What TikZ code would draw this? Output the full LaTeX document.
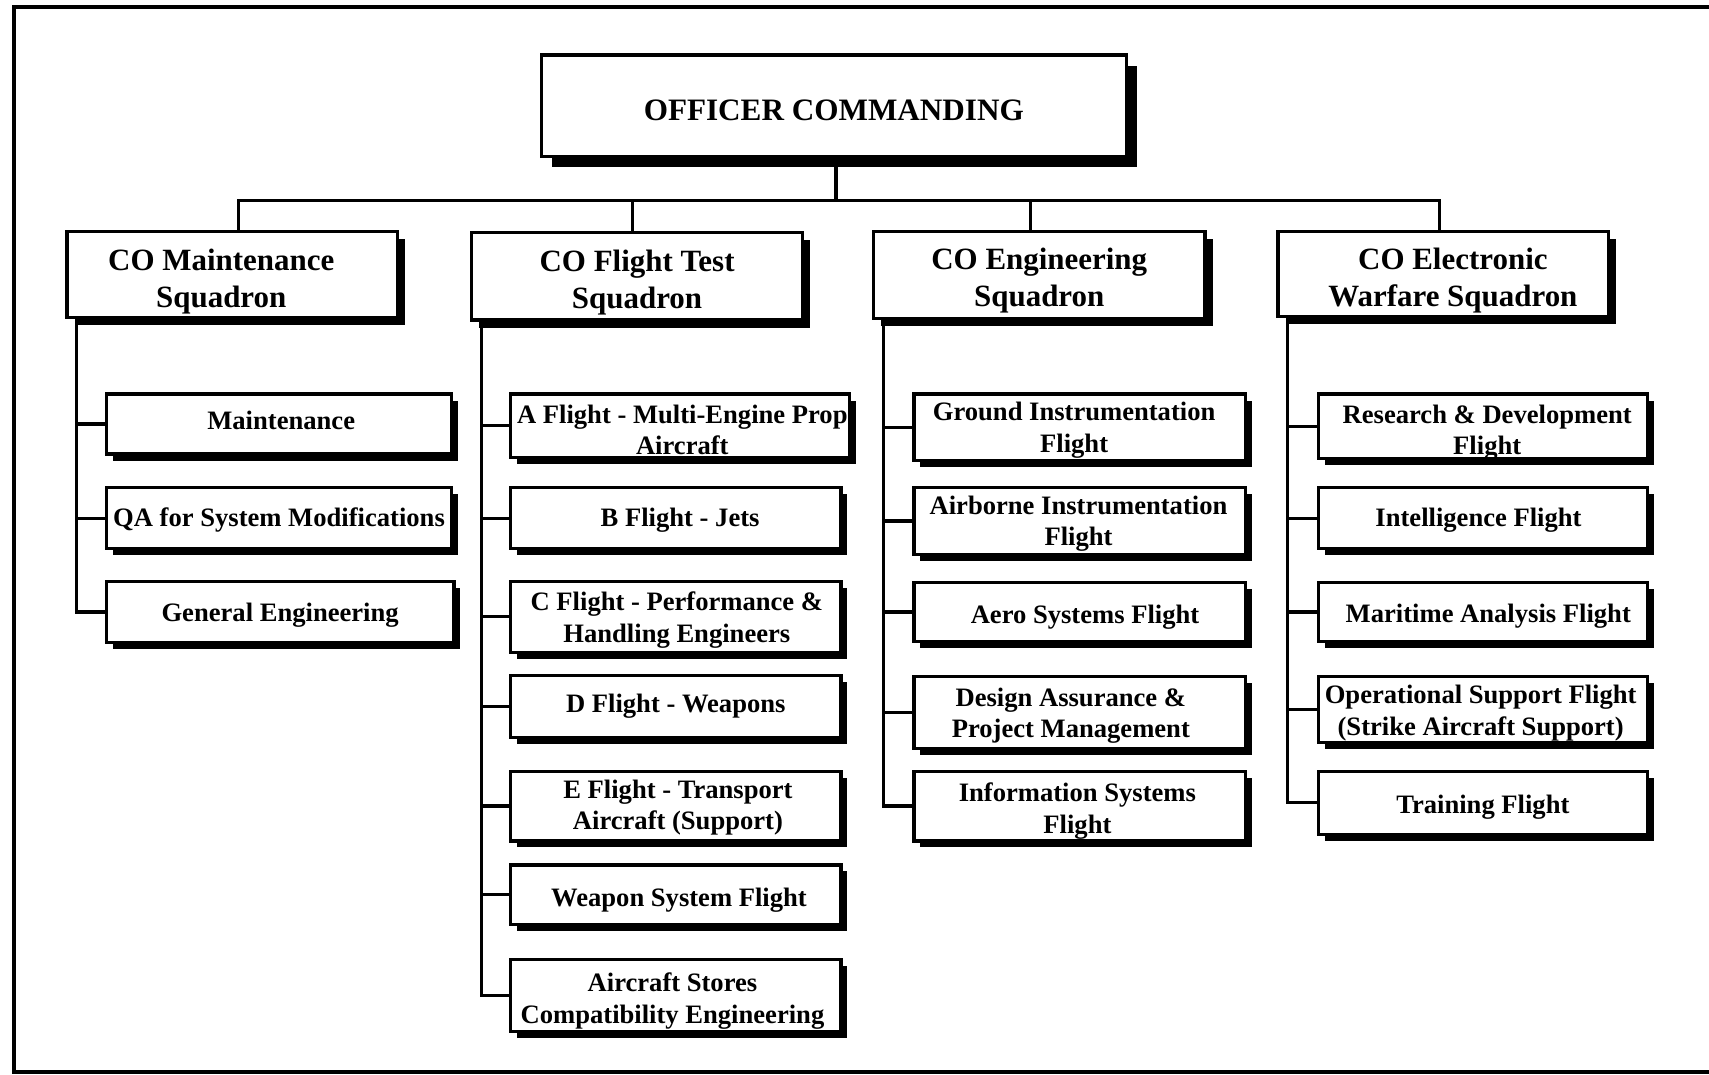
\documentclass[tikz,border=0pt]{standalone}
\usepackage{fontspec}
\setmainfont{Liberation Serif}
\usetikzlibrary{shadows,backgrounds}

% box from outer corners (x1,y1)-(x2,y2) with its caption nudged by (dx,dy):
% kind, name, x1, y1, x2, y2, dx, dy, text
\newcommand\orgbox[9]{%
  \node[#1box, minimum width={(#5-#3-3)*0.5pt}, minimum height={(#6-#4-3)*0.5pt}]
    (#2) at ({(#3+#5)/2},{(#4+#6)/2}) {};
  \node[#1text] (#2-txt) at ([xshift={(#7)*0.5pt}, yshift={0-(#8)*0.5pt}]#2.center) {#9};}
% vertical trunk under a squadron head with stubs to its flights
\newcommand\orgtrunk[3]{%
  \coordinate (#1-t) at ([xshift=4.5pt]#1.south west);
  \draw[link] (#1-t) |- (#2.west);
  \foreach \c in {#3} \draw[link] (\c.west -| #1-t) -- (\c.west);}

\begin{document}
\begin{tikzpicture}[x=0.5pt,y=-0.5pt,
  every node/.style={inner sep=0pt, outer sep=0pt},
  orgbase/.style={draw=black, line width=1.5pt, fill=white},
  topbox/.style={orgbase,
    drop shadow={shadow xshift=5pt, shadow yshift=-5pt, fill=black, opacity=1}},
  headbox/.style={orgbase,
    drop shadow={shadow xshift=3.5pt, shadow yshift=-3.5pt, fill=black, opacity=1}},
  unitbox/.style={orgbase,
    drop shadow={shadow xshift=3pt, shadow yshift=-3pt, fill=black, opacity=1}},
  toptext/.style={align=center, font=\fontsize{14.3}{17}\selectfont\bfseries},
  headtext/.style={align=center, font=\fontsize{14.2}{17}\selectfont\bfseries},
  unittext/.style={align=center, font=\fontsize{12.2}{14.5}\selectfont\bfseries},
  link/.style={draw=black, line width=1.4pt},
  frameline/.style={draw=black, line width=1.8pt}
]
\useasboundingbox (0,0) rectangle (1568,986);

% outer frame, open on the right
\draw[frameline] (1570,6.6) -- (13,6.6) -- (13,983.5) -- (1570,983.5);

% command
\orgbox{top}{oc}{495}{49}{1035}{145}{0}{4}{OFFICER COMMANDING}

% squadrons
\orgbox{head}{mh}{60}{211}{366}{293}{-10}{6}{CO Maintenance\\Squadron}
\orgbox{head}{ft}{431}{212}{738}{295}{0}{6}{CO Flight Test\\Squadron}
\orgbox{head}{en}{800}{211}{1107}{294}{0}{5}{CO Engineering\\Squadron}
\orgbox{head}{ew}{1171}{211}{1477}{292}{9}{6}{CO Electronic\\Warfare Squadron}

% maintenance squadron
\orgbox{unit}{m1}{96}{360}{416}{418}{2}{-3}{Maintenance}
\orgbox{unit}{m2}{96}{446}{416}{505}{0}{2}{QA for System Modifications}
\orgbox{unit}{m3}{96}{532}{418}{591}{0}{3}{General Engineering}

% flight test squadron
\orgbox{unit}{f1}{467}{360}{781}{421}{2}{4}{A Flight - Multi-Engine Prop\\Aircraft}
\orgbox{unit}{f2}{467}{446}{773}{505}{4}{2}{B Flight - Jets}
\orgbox{unit}{f3}{467}{532}{773}{600}{1}{3}{C Flight - Performance \&\\Handling Engineers}
\orgbox{unit}{f4}{467}{618}{773}{678}{0}{0}{D Flight - Weapons}
\orgbox{unit}{f5}{467}{706}{773}{773}{2}{1.5}{E Flight - Transport\\Aircraft (Support)}
\orgbox{unit}{f6}{467}{792}{773}{850}{3}{5}{Weapon System Flight}
\orgbox{unit}{f7}{467}{879}{773}{948}{-3}{5}{Aircraft Stores\\Compatibility Engineering}

% engineering squadron
\orgbox{unit}{e1}{837}{360}{1144}{424}{-5}{2.5}{Ground Instrumentation\\Flight}
\orgbox{unit}{e2}{837}{446}{1144}{510}{-1}{2.5}{Airborne Instrumentation\\Flight}
\orgbox{unit}{e3}{837}{533}{1144}{590}{5}{5}{Aero Systems Flight}
\orgbox{unit}{e4}{837}{619}{1144}{688}{-8}{3}{Design Assurance \&\\Project Management}
\orgbox{unit}{e5}{837}{706}{1144}{773}{-2}{4.5}{Information Systems\\Flight}

% electronic warfare squadron
\orgbox{unit}{w1}{1208}{360}{1513}{422}{4}{6}{Research \& Development\\Flight}
\orgbox{unit}{w2}{1208}{446}{1513}{505}{-4}{2}{Intelligence Flight}
\orgbox{unit}{w3}{1208}{533}{1513}{590}{5}{4}{Maritime Analysis Flight}
\orgbox{unit}{w4}{1208}{619}{1513}{683}{-2}{3}{Operational Support Flight\\(Strike Aircraft Support)}
\orgbox{unit}{w5}{1208}{706}{1513}{767}{0}{4}{Training Flight}

% connectors
\begin{scope}[on background layer]
  \coordinate (bus) at (767,184);
  \draw[link] ([xshift=1pt]oc.south) -- ([xshift=1pt]oc.south |- bus);
  \draw[link] ([xshift=3pt]mh.north) |- (bus) -| ([xshift=-1.5pt]ew.north);
  \draw[link] ([xshift=-2pt]ft.north) -- ([xshift=-2pt]ft.north |- bus);
  \draw[link] ([xshift=-4pt]en.north) -- ([xshift=-4pt]en.north |- bus);
  \orgtrunk{mh}{m3}{m1,m2,m3}
  \orgtrunk{ft}{f7}{f1,f2,f3,f4,f5,f6,f7}
  \orgtrunk{en}{e5}{e1,e2,e3,e4,e5}
  \orgtrunk{ew}{w5}{w1,w2,w3,w4,w5}
\end{scope}
\end{tikzpicture}
\end{document}
